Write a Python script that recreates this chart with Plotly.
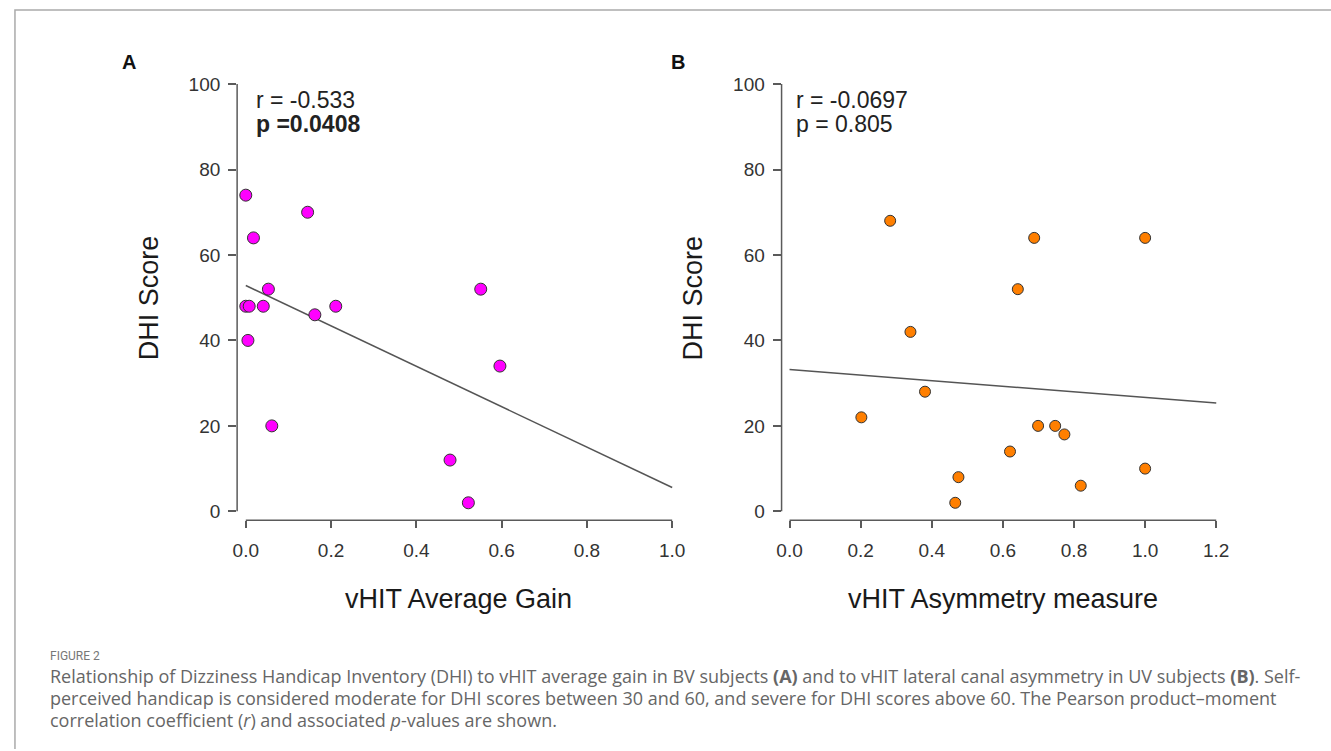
import numpy as np
import plotly.graph_objects as go

W, H = 1331, 751

# ---- data ----
# Panel A: BV subjects, vHIT average gain vs DHI score
gain_a = [0.0, 0.145, 0.018, 0.053, 0.0, 0.008, 0.041, 0.162, 0.211, 0.551, 0.005, 0.596, 0.061, 0.479, 0.522]
dhi_a = [74, 70, 64, 52, 48, 48, 48, 46, 48, 52, 40, 34, 20, 12, 2]

# Panel B: UV subjects, vHIT asymmetry measure vs DHI score
asym_b = [0.283, 0.688, 1.0, 0.642, 0.34, 0.381, 0.202, 0.699, 0.747, 0.773, 0.62, 0.475, 0.466, 1.0, 0.819]
dhi_b = [68, 64, 64, 52, 42, 28, 22, 20, 20, 18, 14, 8, 2, 10, 6]

stats_a = ["r = -0.533", "<b>p =0.0408</b>"]
stats_b = ["r = -0.0697", "p = 0.805"]

xticks_a = [0.0, 0.2, 0.4, 0.6, 0.8, 1.0]
xticks_b = [0.0, 0.2, 0.4, 0.6, 0.8, 1.0, 1.2]
yticks = [0, 20, 40, 60, 80, 100]

caption_head = "FIGURE 2"
caption_lines = [
    "Relationship of Dizziness Handicap Inventory (DHI) to vHIT average gain in BV subjects <b>(A)</b> and to vHIT lateral canal asymmetry in UV subjects <b>(B)</b>. Self-",
    "perceived handicap is considered moderate for DHI scores between 30 and 60, and severe for DHI scores above 60. The Pearson product\u2013moment",
    "correlation coefficient (<i>r</i>) and associated <i>p</i>-values are shown.",
]

# ---- pixel geometry helpers ----
def px(x):
    return x / W


def py(y):
    return 1 - y / H


Y100, Y0, XLINE = 84.3, 512.7, 521.7
Y_PER = (Y0 - Y100) / 100.0
TOP = 72.0

panels = [
    dict(ax_left=233.0, x0=241.7, x1=669.7, xmax_val=1.0, right=690.0, stat_x=250.0),
    dict(ax_left=779.5, x0=787.5, x1=1215.8, xmax_val=1.2, right=1240.0, stat_x=792.0),
]

fig = go.Figure()

FAMILY = "Liberation Sans, Arial, sans-serif"
TICK_FONT = dict(family=FAMILY, size=19, color="#333333")
TITLE_FONT = dict(family=FAMILY, size=27, color="#1a1a1a")
AXIS_COLOR = "#5a5a5a"

series = [
    (gain_a, dhi_a, "#ff00ff", 12, "x", "y"),
    (asym_b, dhi_b, "#ff7f00", 11, "x2", "y2"),
]

for i, (xs, ys, color, msize, xa, ya) in enumerate(series):
    p = panels[i]
    slope, intercept = np.polyfit(xs, ys, 1)
    lx = np.array([0.0, p["xmax_val"]])
    fig.add_trace(go.Scatter(
        x=lx, y=intercept + slope * lx, mode="lines",
        line=dict(color="#555555", width=1.5),
        xaxis=xa, yaxis=ya, showlegend=False, hoverinfo="skip",
    ))
    fig.add_trace(go.Scatter(
        x=xs, y=ys, mode="markers",
        marker=dict(size=msize, color=color, line=dict(color="#333333", width=1)),
        xaxis=xa, yaxis=ya, showlegend=False, cliponaxis=False,
    ))

layout = dict(
    width=W, height=H, autosize=False,
    margin=dict(l=0, r=0, t=0, b=0),
    paper_bgcolor="white", plot_bgcolor="white",
    showlegend=False,
)

titles_x = ["vHIT Average Gain", "vHIT Asymmetry measure"]
for i, p in enumerate(panels):
    per = (p["x1"] - p["x0"]) / p["xmax_val"]
    xr = [(p["ax_left"] - p["x0"]) / per, (p["right"] - p["x0"]) / per]
    yr = [-(XLINE - Y0) / Y_PER, 100 + (Y100 - TOP) / Y_PER]
    sfx = "" if i == 0 else str(i + 1)
    layout["xaxis" + sfx] = dict(
        domain=[px(p["ax_left"]), px(p["right"])], range=xr, anchor="y" + sfx,
        showgrid=False, zeroline=False, showline=False,
        tickvals=xticks_a if i == 0 else xticks_b, tickformat=".1f",
        ticks="outside", ticklen=7, tickwidth=1.5, tickcolor=AXIS_COLOR,
        tickfont=TICK_FONT, ticklabelstandoff=6,
    )
    layout["yaxis" + sfx] = dict(
        domain=[py(XLINE), py(TOP)], range=yr, anchor="x" + sfx,
        showgrid=False, zeroline=False, showline=False,
        tickvals=yticks, ticks="outside", ticklen=8, tickwidth=1.5, tickcolor=AXIS_COLOR,
        tickfont=TICK_FONT, ticklabelstandoff=4,
    )

fig.update_layout(**layout)

shapes = []
annotations = []
for i, p in enumerate(panels):
    sfx = "" if i == 0 else str(i + 1)
    xa, ya = "x" + sfx, "y" + sfx
    # axis lines spanning only the tick range
    shapes.append(dict(type="line", xref=xa + " domain", yref=ya, x0=0, x1=0, y0=0, y1=100,
                       line=dict(color=AXIS_COLOR, width=1.5)))
    shapes.append(dict(type="line", xref=xa, yref=ya + " domain", x0=0, x1=p["xmax_val"], y0=0, y1=0,
                       line=dict(color=AXIS_COLOR, width=1.5)))
    # axis titles
    annotations.append(dict(text=titles_x[i], xref="paper", yref="paper",
                            x=px((p["x0"] + p["x1"]) / 2), y=py(601), xanchor="center", yanchor="middle",
                            showarrow=False, font=TITLE_FONT))
    annotations.append(dict(text="DHI Score", xref="paper", yref="paper",
                            x=px(p["ax_left"] - 89), y=py((Y0 + Y100) / 2), xanchor="center", yanchor="middle",
                            textangle=-90, showarrow=False, font=TITLE_FONT))
    # correlation statistics
    stats = stats_a if i == 0 else stats_b
    for j, s in enumerate(stats):
        annotations.append(dict(text=s, xref="paper", yref="paper",
                                x=px(p["stat_x"]), y=py(100 + 24 * j), xanchor="left", yanchor="middle",
                                showarrow=False,
                                font=dict(family=FAMILY, size=23, color="#222222")))

# panel letters
for letter, xpos in zip(["A", "B"], [124.5, 676]):
    annotations.append(dict(text="<b>%s</b>" % letter, xref="paper", yref="paper",
                            x=px(xpos), y=py(62.5), xanchor="center", yanchor="middle", showarrow=False,
                            font=dict(family=FAMILY, size=20, color="#111111")))

# caption
annotations.append(dict(text=caption_head, xref="paper", yref="paper", x=px(43), y=py(658),
                        xanchor="left", yanchor="middle", showarrow=False,
                        font=dict(family="Roboto, sans-serif", size=12, color="#777777")))
for k, line in enumerate(caption_lines):
    annotations.append(dict(text=line, xref="paper", yref="paper", x=px(43), y=py(678 + 22 * k),
                            xanchor="left", yanchor="middle", showarrow=False,
                            font=dict(family="Open Sans, sans-serif", size=18, color="#666666")))

# figure frame (top and left edges)
shapes.append(dict(type="path", xref="paper", yref="paper",
                   path="M %f %f L %f %f L %f %f" % (px(10), py(H), px(10), py(10), px(W), py(10)),
                   line=dict(color="#aaaaaa", width=1.5)))

fig.update_layout(shapes=shapes, annotations=annotations)
fig.write_html("out.html")
